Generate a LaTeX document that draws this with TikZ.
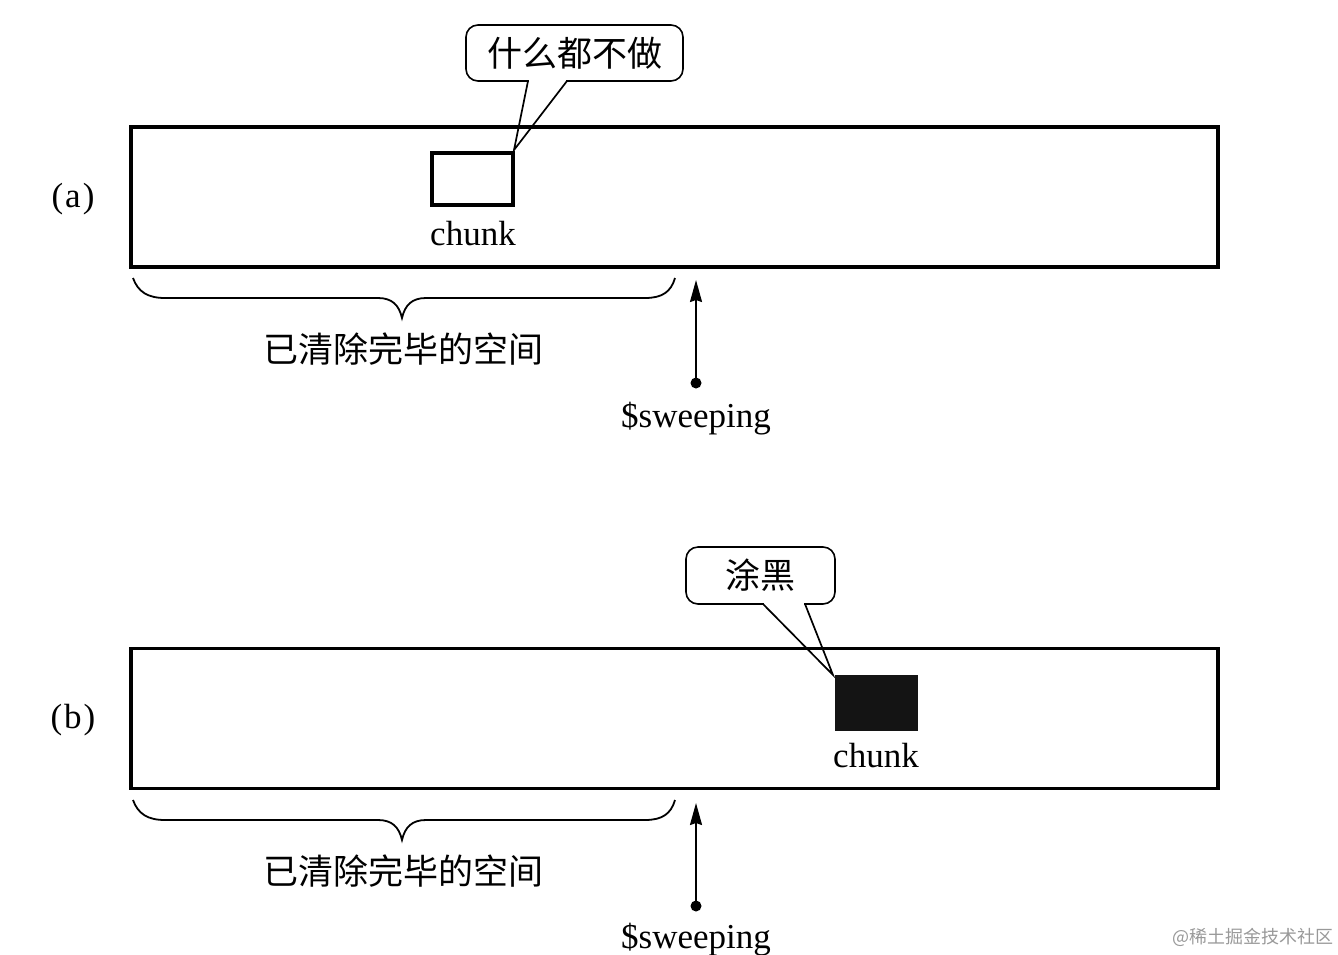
\documentclass[tikz,border=0pt]{standalone}
\usepackage{fontspec}
\setmainfont{Liberation Serif}
\newfontfamily\cjk{Noto Sans CJK SC}
\usetikzlibrary{arrows.meta}
\begin{document}
\begin{tikzpicture}[x=1pt,y=-1pt,
  mainbox/.style={draw,line width=3.5pt,inner sep=0pt,minimum width=1087pt,minimum height=140pt},
  chunkbox/.style={draw,line width=4pt,inner sep=0pt,minimum width=81pt,minimum height=52pt},
  chunkfill/.style={fill=black!92,inner sep=0pt,minimum width=83pt,minimum height=56pt},
  latin/.style={font=\fontsize{35}{40}\selectfont,inner sep=0pt},
  cjklabel/.style={font=\cjk\fontsize{35}{40}\selectfont,inner sep=0pt},
  callout/.style={draw,line width=1.6pt,rounded corners=12pt,fill=white,inner sep=0pt,font=\cjk\fontsize{35}{40}\selectfont},
  pointer/.style={draw,line width=1.7pt,line join=miter},
  bracepath/.style={draw,line width=1.8pt},
  dotnode/.style={circle,fill=black,inner sep=0pt,minimum size=11pt},
  arrowline/.style={draw,line width=1.9pt,-{Stealth[length=22pt,width=12pt,inset=2pt]}},
]
\useasboundingbox (0,0) rectangle (1338,954);

% ---------------- (a) ----------------
\node[latin,anchor=base] (labA) at (73,207) {(\kern2pt a\kern2pt)};
\node[mainbox] (boxA) at (674.5,197) {};
\node[chunkbox] (chunkA) at (472.5,179) {};
\node[latin,anchor=base] (chunkAtxt) at (473,245) {chunk};

\node[callout,minimum width=217pt,minimum height=56pt] (callA) at (574.5,53) {什么都不做};
\coordinate (pA1) at (528,81);
\coordinate (pA2) at (567,81);
\coordinate (tipA) at (514,150);
\fill[white] (529.4,77) rectangle (565.6,84);
\draw[pointer] (pA1) -- (tipA) -- (pA2);

\draw[bracepath] (133,278) .. controls (138,292) and (148,298) .. (165,298) -- (378,298)
  .. controls (392,298) and (399,305) .. (402,318)
  .. controls (405,305) and (412,298) .. (426,298) -- (645,298)
  .. controls (662,298) and (671,292) .. (675,278);
\node[cjklabel] (clearA) at (403,349) {已清除完毕的空间};

\node[dotnode] (dotA) at (696,383) {};
\coordinate (arrA) at (696,280);
\draw[arrowline] (dotA.center) -- (arrA);
\node[latin,anchor=base] (swA) at (696,427) {\$sweeping};

% ---------------- (b) ----------------
\node[latin,anchor=base] (labB) at (73,728) {(\kern2pt b\kern2pt)};
\node[mainbox] (boxB) at (674.5,718.5) {};
\node[chunkfill] (chunkB) at (876.5,703) {};
\node[latin,anchor=base] (chunkBtxt) at (876,767) {chunk};

\node[callout,minimum width=149pt,minimum height=57pt] (callB) at (760.5,575.5) {涂黑};
\coordinate (pB1) at (763,604);
\coordinate (pB2) at (805,604);
\coordinate (tipB) at (833,675);
\fill[white] (764.4,600) rectangle (803.6,607);
\draw[pointer] (pB1) -- (tipB) -- (pB2);

\draw[bracepath] (133,800) .. controls (138,814) and (148,820) .. (165,820) -- (378,820)
  .. controls (392,820) and (399,827) .. (402,840)
  .. controls (405,827) and (412,820) .. (426,820) -- (645,820)
  .. controls (662,820) and (671,814) .. (675,800);
\node[cjklabel] (clearB) at (403,871) {已清除完毕的空间};

\node[dotnode] (dotB) at (696,906) {};
\coordinate (arrB) at (696,803);
\draw[arrowline] (dotB.center) -- (arrB);
\node[latin,anchor=base] (swB) at (696,948) {\$sweeping};

% watermark
\node[font=\cjk\fontsize{18}{20}\selectfont,text=black!40,inner sep=0pt] (wm) at (1253,937) {@稀土掘金技术社区};
\end{tikzpicture}
\end{document}
